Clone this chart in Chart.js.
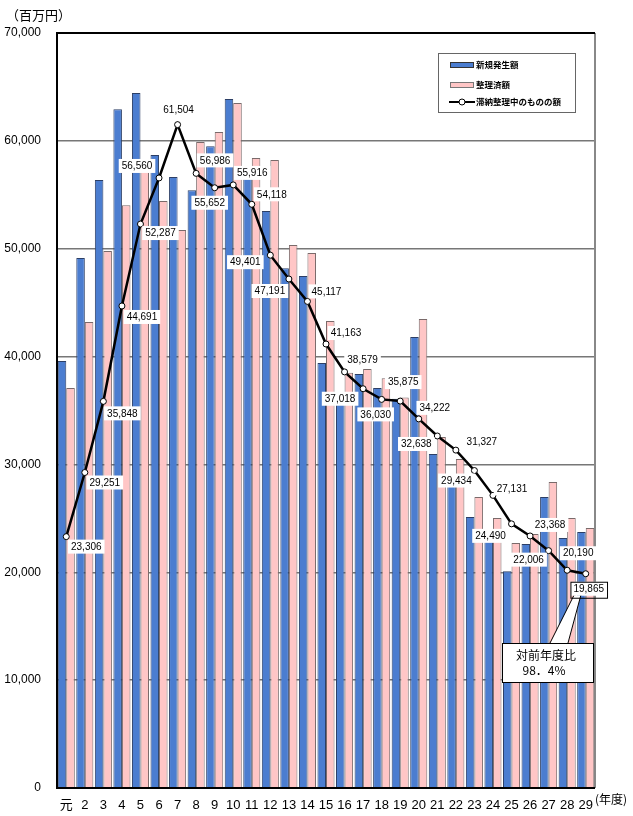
<!DOCTYPE html>
<html lang="ja">
<head>
<meta charset="UTF-8">
<title>滞納整理中のものの額</title>
<script src="https://cdn.jsdelivr.net/npm/chart.js"></script>
</head>
<body style="margin:0; background:#fff;">
<canvas id="taxChart" width="633" height="816"></canvas>
<script>
// 年度
const years = ['元', '2', '3', '4', '5', '6', '7', '8', '9', '10', '11', '12', '13', '14', '15',
  '16', '17', '18', '19', '20', '21', '22', '23', '24', '25', '26', '27', '28', '29'];

// 新規発生額 (百万円)
const newAmounts = [39580, 49130, 56360, 62940, 64430, 58680, 56640, 55430, 59510, 63870, 56900,
  53490, 48200, 47460, 39400, 36200, 38380, 37080, 36100, 41810, 30960, 28300, 25120, 22900,
  20100, 22620, 26980, 23180, 23730];

// 整理済額
const settledAmounts = [37080, 43200, 49780, 54040, 57600, 54420, 51730, 59890, 60810, 63500,
  58400, 58220, 50340, 49600, 43290, 38500, 38840, 38000, 36200, 43480, 32540, 30500, 26980,
  25030, 22710, 23550, 28370, 25030, 24100];

// 滞納整理中のものの額
const pendingAmounts = [23306, 29251, 35848, 44691, 52287, 56560, 61504, 56986, 55652, 55916,
  54118, 49401, 47191, 45117, 41163, 38579, 37018, 36030, 35875, 34222, 32638, 31327, 29434,
  27131, 24490, 23368, 22006, 20190, 19865];

const yTicks = [0, 10000, 20000, 30000, 40000, 50000, 60000, 70000];

// where each value label sits relative to its point (px)
const labelOffsets = [[20, 10], [20, 10], [19, 12], [20, 11], [20, 9], [-22, -12], [1, -15],
  [19, -13], [-5, 15], [19, -12], [20, -10], [-25, 7], [-19, 12], [19, -10], [20, -11],
  [18, -12], [-23, 10], [-6, 15], [3, -19], [16, -11], [-21, 8], [26, -8], [-18, 10],
  [19, -7], [-21, 12], [20, -11], [-20, 9], [11, -17], [3, 15]];

const blue = '#4b7dd0';
const pink = '#ffc6c6';
const numFont = '10px "Liberation Sans", Arial, sans-serif';
const jpFont = '"Noto Sans CJK JP", sans-serif';

const extras = {
  id: 'extras',
  beforeDatasetsDraw(chart) {
    const { ctx, chartArea: a } = chart;
    ctx.save();
    ctx.strokeStyle = '#888';
    ctx.lineWidth = 2;
    ctx.beginPath();
    ctx.moveTo(a.right, a.top);
    ctx.lineTo(a.right, a.bottom);
    ctx.stroke();
    ctx.restore();
  },
  afterDatasetsDraw(chart) {
    const { ctx, chartArea: a } = chart;
    ctx.save();
    // frame
    ctx.strokeStyle = '#000';
    ctx.lineWidth = 2;
    ctx.beginPath();
    ctx.moveTo(a.right, a.top);
    ctx.lineTo(a.left, a.top);
    ctx.lineTo(a.left, a.bottom);
    ctx.lineTo(a.right, a.bottom);
    ctx.stroke();

    // value labels
    const pts = chart.getDatasetMeta(2).data;
    ctx.font = numFont;
    ctx.textAlign = 'center';
    ctx.textBaseline = 'middle';
    let last = null;
    pts.forEach((p, i) => {
      const txt = pendingAmounts[i].toLocaleString('en-US');
      const w = ctx.measureText(txt).width + 6;
      const h = 14;
      const cx = p.x + labelOffsets[i][0];
      const cy = p.y + labelOffsets[i][1];
      ctx.fillStyle = '#fff';
      ctx.fillRect(cx - w / 2, cy - h / 2, w, h);
      if (i === pts.length - 1) last = { cx, cy, w, h };
      ctx.fillStyle = '#000';
      ctx.fillText(txt, cx, cy + 0.5);
    });

    // callout for the latest year
    if (last) {
      const bx = 502, by = 643, bw = 91, bh = 39;
      ctx.fillStyle = '#fff';
      ctx.strokeStyle = '#000';
      ctx.lineWidth = 1;
      ctx.beginPath();
      ctx.moveTo(550, by + 1);
      ctx.lineTo(last.cx - 15, last.cy + last.h / 2);
      ctx.lineTo(last.cx - 8, last.cy + last.h / 2);
      ctx.lineTo(568, by + 1);
      ctx.closePath();
      ctx.fill();
      ctx.beginPath();
      ctx.moveTo(550, by);
      ctx.lineTo(last.cx - 15, last.cy + last.h / 2);
      ctx.moveTo(568, by);
      ctx.lineTo(last.cx - 8, last.cy + last.h / 2);
      ctx.stroke();
      ctx.strokeRect(last.cx - last.w / 2 + 0.5, last.cy - last.h / 2 + 0.5, last.w, last.h + 2);
      ctx.fillRect(bx, by, bw, bh);
      ctx.strokeRect(bx + 0.5, by + 0.5, bw, bh);
      ctx.fillStyle = '#000';
      ctx.font = '12px ' + jpFont;
      ctx.fillText('対前年度比', 546, 655);
      ctx.fillText('98．4%', 544, 670);
    }

    // legend
    const lx = 438, ly = 53;
    ctx.fillStyle = '#fff';
    ctx.fillRect(lx, ly, 137, 59);
    ctx.strokeStyle = '#666';
    ctx.strokeRect(lx + 0.5, ly + 0.5, 137, 59);
    ctx.fillStyle = blue;
    ctx.fillRect(450, 62, 23, 5);
    ctx.strokeStyle = '#333';
    ctx.strokeRect(450.5, 62.5, 23, 5);
    ctx.fillStyle = pink;
    ctx.fillRect(450, 82, 23, 5);
    ctx.strokeStyle = '#777';
    ctx.strokeRect(450.5, 82.5, 23, 5);
    ctx.strokeStyle = '#000';
    ctx.lineWidth = 2;
    ctx.beginPath();
    ctx.moveTo(449, 102);
    ctx.lineTo(475, 102);
    ctx.stroke();
    ctx.lineWidth = 1;
    ctx.fillStyle = '#fff';
    ctx.beginPath();
    ctx.arc(462, 102, 3, 0, Math.PI * 2);
    ctx.fill();
    ctx.stroke();
    ctx.fillStyle = '#000';
    ctx.font = 'bold 8.5px ' + jpFont;
    ctx.textAlign = 'left';
    ctx.fillText('新規発生額', 476, 65);
    ctx.fillText('整理済額', 476, 85);
    ctx.fillText('滞納整理中のものの額', 476, 102);

    // unit captions
    ctx.font = '13px ' + jpFont;
    ctx.fillText('（百万円）', 6, 15);
    ctx.font = '12px ' + jpFont;
    ctx.fillText('(年度)', 595, 799);
    ctx.restore();
  }
};

new Chart(document.getElementById('taxChart'), {
  data: {
    labels: years,
    datasets: [
      {
        type: 'bar',
        label: '新規発生額',
        data: newAmounts,
        backgroundColor: blue,
        borderColor: '#2c3f66',
        borderWidth: 1,
        barPercentage: 1,
        categoryPercentage: 0.92,
        order: 2
      },
      {
        type: 'bar',
        label: '整理済額',
        data: settledAmounts,
        backgroundColor: pink,
        borderColor: '#7a6a6a',
        borderWidth: 1,
        barPercentage: 1,
        categoryPercentage: 0.92,
        order: 2
      },
      {
        type: 'line',
        label: '滞納整理中のものの額',
        data: pendingAmounts,
        borderColor: '#000',
        borderWidth: 2.5,
        pointRadius: 3,
        pointBackgroundColor: '#fff',
        pointBorderColor: '#000',
        pointBorderWidth: 1,
        tension: 0,
        order: 0
      }
    ]
  },
  options: {
    responsive: false,
    animation: false,
    layout: { padding: { top: 33, right: 38, left: 0, bottom: 0 } },
    plugins: {
      legend: { display: false },
      tooltip: { enabled: false }
    },
    scales: {
      x: {
        grid: { display: false },
        border: { display: false },
        ticks: {
          color: '#000',
          padding: 2,
          maxRotation: 0,
          autoSkip: false,
          font: { size: 13, family: '"Liberation Sans", ' + jpFont }
        },
        afterFit(scale) { scale.height = 28; }
      },
      y: {
        min: 0,
        max: 70000,
        afterBuildTicks(scale) { scale.ticks = yTicks.map(v => ({ value: v })); },
        grid: { color: '#777', lineWidth: 1.5, drawTicks: false },
        border: { display: false },
        ticks: {
          color: '#000',
          padding: 16,
          font: { size: 12, family: '"Liberation Sans", Arial, sans-serif' },
          callback: v => v.toLocaleString('en-US')
        },
        afterFit(scale) { scale.width = 57; }
      }
    }
  },
  plugins: [extras]
});
</script>
</body>
</html>
